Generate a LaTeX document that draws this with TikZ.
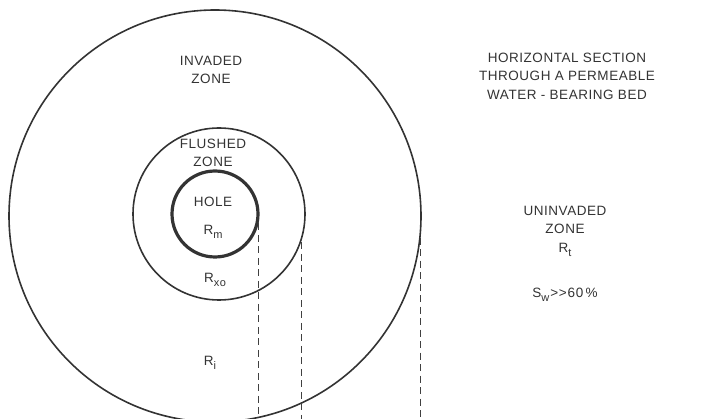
\documentclass[tikz,border=0pt]{standalone}
\usepackage{fontspec}
\setmainfont{Liberation Sans}[LetterSpace=4,Ligatures=NoCommon]
\newcommand{\sbs}[1]{\raisebox{-4pt}{\fontsize{11}{11}\selectfont #1}}
\begin{document}
\begin{tikzpicture}[x=1pt,y=-1pt,
  ring/.style={draw=black!80,circle,inner sep=0pt,line width=1.6pt},
  lbl/.style={align=center,font=\fontsize{13.5}{18.5}\selectfont,text=black!80,inner sep=0pt},
  drop/.style={draw=black!75,dash pattern=on 7pt off 4.5pt,line width=1pt}]
\useasboundingbox (0,0) rectangle (709,419);
\node[ring,minimum size=412pt] (outer) at (215,216) {};
\node[ring,minimum size=172pt] (flushed) at (219,214) {};
\node[ring,minimum size=86pt,line width=3.2pt] (hole) at (215,214) {};
\coordinate (bottom) at (0,419);
\draw[drop] (hole.-12) -- (hole.-12 |- bottom);
\draw[drop] (flushed.-19) -- (flushed.-19 |- bottom);
\draw[drop] (outer.-6) -- (outer.-6 |- bottom);
\node[lbl] (inv) at (211,70) {INVADED\\ZONE};
\node[lbl] (fl) at (213,153) {FLUSHED\\ZONE};
\node[lbl] (holet) at (213,202) {HOLE};
\node[lbl] (rm) at (213,232) {R\sbs{m}};
\node[lbl] (rxo) at (215,280) {R\sbs{xo}};
\node[lbl] (ri) at (210,363) {R\sbs{i}};
\node[lbl] (title) at (567,76) {HORIZONTAL SECTION\\THROUGH A PERMEABLE\\WATER - BEARING BED};
\node[lbl] (unin) at (565,231) {UNINVADED\\ZONE\\R\sbs{t}};
\node[lbl] (sw) at (565,295) {S\sbs{w}\kern1pt>{}>\kern1pt 60\,\%};
\end{tikzpicture}
\end{document}
